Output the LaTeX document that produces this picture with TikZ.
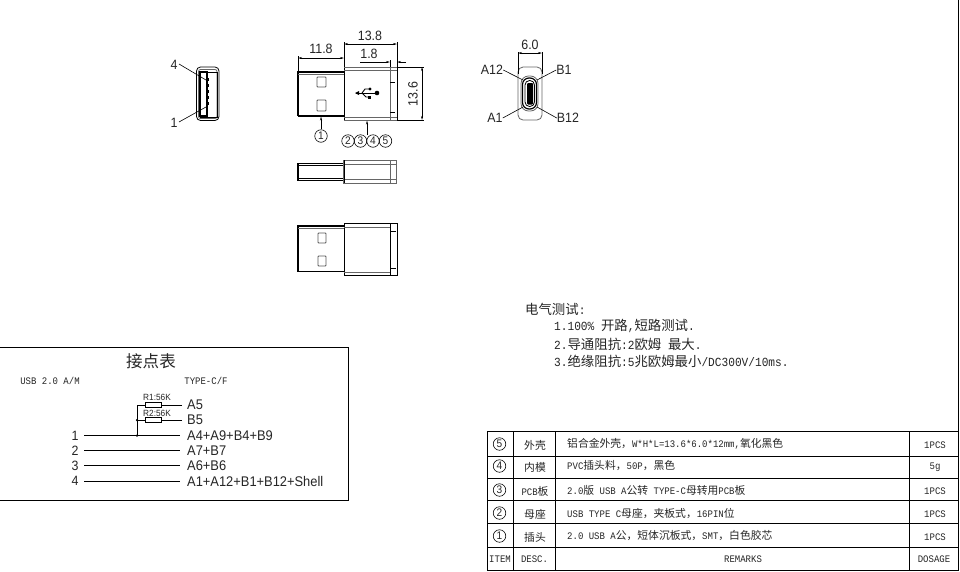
\documentclass[tikz,border=0pt]{standalone}
\usepackage{fontspec}
\setmainfont[FakeStretch=0.9]{Liberation Mono}
\setsansfont[FakeStretch=0.92]{Liberation Sans}
\newfontfamily\cjkf[Scale=1.08]{Noto Sans CJK SC}
\usetikzlibrary{arrows.meta}
\newcommand{\CJ}[1]{{\cjkf #1}}
\tikzset{
 ln/.style={line width=0.8pt,black},
 gln/.style={line width=0.8pt,black!60},
 hln/.style={line width=1.2pt,black},
 thn/.style={line width=0.6pt,black},
 dima/.style={line width=0.5pt,black,{Stealth[length=4pt,width=2pt]}-{Stealth[length=4pt,width=2pt]}},
 ldr/.style={line width=0.5pt,black,-{Stealth[length=4pt,width=2pt]}},
 lab/.style={font=\sffamily\fontsize{13.5}{13.5}\selectfont,inner sep=0pt,text=black!85},
 pin/.style={font=\sffamily\fontsize{14}{14}\selectfont,inner sep=0pt,anchor=west,text=black!85},
 rlab/.style={font=\sffamily\fontsize{9}{9}\selectfont,inner sep=0pt,text=black!85},
 txt/.style={font=\fontsize{10}{10}\selectfont,inner sep=0pt,text=black!85},
 note/.style={font=\fontsize{12.4}{12.4}\selectfont,inner sep=0pt,anchor=west,text=black!85},
 circ/.style={circle,draw,line width=0.6pt,minimum size=12.5pt,inner sep=0pt,font=\sffamily\fontsize{11}{11}\selectfont,text=black!85},
 resb/.style={draw,line width=0.7pt,minimum width=16pt,minimum height=5pt,inner sep=0pt},
 dotn/.style={circle,fill=black,minimum size=2.5pt,inner sep=0pt}
}
\begin{document}
\begin{tikzpicture}[x=1pt,y=-1pt]
\useasboundingbox (0,0) rectangle (960,571);
\fill[white] (0,0) rectangle (960,571);
% page border
\draw[ln] (958,0) -- (958,431);

% USB A face
\draw[ln,rounded corners=4pt] (196.5,67) rectangle (219,120.5);
\draw[gln,rounded corners=2pt] (198.5,69.5) rectangle (217,118.5);
\draw[ln] (200,72) rectangle (217,117);
\draw[hln] (200,72) rectangle (207,116);
\draw[hln,dash pattern=on 3pt off 3pt] (208,78) -- (208,108);
\node[lab] (f4) at (174,65) {4};
\node[lab] (f1) at (174,123) {1};
\coordinate (f4e) at (206,80);
\coordinate (f1e) at (206,107);
\draw[thn] (f4) ++(5,-1) -- (f4e);
\draw[thn] (f1) ++(5,-1) -- (f1e);

% top view
\draw[hln] (344,72) -- (298,72) -- (298,116);
\draw[gln] (298,74) -- (344,74);
\draw[line width=1.6pt] (298,116) -- (344,116);
\draw[ln] (344,67) rectangle (390,120);
\draw[gln] (344,70) -- (397,70);
\draw[gln] (344,117) -- (397,117);
\draw[gln] (390,67) rectangle (397,120);
\draw[gln] (344,67) -- (397,67);
\draw[gln] (344,120) -- (397,120);
\draw[ln] (397,67) -- (397,120);
\foreach \y in {82,112} \draw[thn] (390,\y) -- (395,\y);
\draw[ln,black!65,rounded corners=0.8pt] (317,77) rectangle (326,87);
\draw[ln,black!65,rounded corners=0.8pt] (317,100) rectangle (326,111);
% usb symbol
\draw[line width=1pt] (356,93) -- (377,93);
\fill (355,93) -- (359,91) -- (359,95) -- cycle;
\fill (377,93) circle (2.3pt);
\draw[line width=0.9pt] (362,93) -- (365,89) -- (370,89);
\draw[line width=0.9pt] (362,93) -- (366,97) -- (370,97);
\fill (370,89) circle (1.6pt);
\fill (367.5,95.5) rectangle (371,99);

% dimensions of top view
\coordinate (d1a) at (298,58); \coordinate (d1b) at (344,58);
\draw[dima] (d1a) -- (d1b);
\draw[thn] (298,56) -- (298,72); \draw[thn] (344,42) -- (344,67);
\node[lab] (t118) at (321,49) {11.8};
\coordinate (d2a) at (344,44); \coordinate (d2b) at (397,44);
\draw[dima] (d2a) -- (d2b);
\draw[thn] (397,42) -- (397,67);
\node[lab] (t138) at (370,36) {13.8};
\coordinate (d3a) at (360,62); \coordinate (d3b) at (390,62);
\coordinate (d3c) at (406,62); \coordinate (d3d) at (397,62);
\draw[ldr] (d3a) -- (d3b);
\draw[ldr] (d3c) -- (d3d);
\draw[thn] (390,60) -- (390,67);
\node[lab] (t18) at (369,54) {1.8};
\coordinate (d4a) at (422,67); \coordinate (d4b) at (422,120);
\draw[dima] (d4a) -- (d4b);
\draw[thn] (397,67) -- (424,67); \draw[thn] (397,120) -- (424,120);
\node[lab,rotate=90] (t136) at (413,94) {13.6};
\node[circ] (c1) at (321,136) {1};
\coordinate (c1e) at (321,116.5);
\draw[ldr] (c1) -- (c1e);
\node[circ] (c2) at (348,141) {2};
\node[circ] (c3) at (360.5,141) {3};
\node[circ] (c4) at (373,141) {4};
\node[circ] (c5) at (385.5,141) {5};
\coordinate (cs) at (367,134.5); \coordinate (cse) at (367,120.5);
\draw[ldr] (cs) -- (cse);

% side view
\draw[hln] (344,163.5) -- (298,163.5) -- (298,180.5) -- (344,180.5);
\draw[ln] (298,165.5) -- (344,165.5); \draw[ln] (298,178.5) -- (344,178.5);
\draw[gln] (343.5,160) rectangle (396.5,183);
\draw[gln] (344,164) -- (397,164); \draw[gln] (344,179) -- (397,179);
\draw[gln] (390,160) -- (390,183);
\draw[ln] (344,160) -- (344,183);

% bottom view
\draw[hln] (344,226) -- (298,226) -- (298,271.5) -- (344,271.5);
\draw[gln] (298,228) -- (344,228);
\draw[ln] (344,223) rectangle (390,275);
\draw[ln] (390,223) rectangle (397,275);
\draw[gln] (344,227.5) -- (390,227.5);
\draw[gln] (344,272) -- (390,272);
\foreach \y in {231,268} \draw[thn] (390,\y) -- (396,\y);
\draw[ln,black!65,rounded corners=0.8pt] (318,233) rectangle (326,243);
\draw[ln,black!65,rounded corners=0.8pt] (318,256) rectangle (326,266);

% USB C face
\draw[gln,rounded corners=5pt] (518,67) rectangle (542,120);
\draw[thn] (518,52) -- (518,74); \draw[thn] (542,52) -- (542,74);
\coordinate (d5a) at (518,53); \coordinate (d5b) at (542,53);
\draw[dima] (d5a) -- (d5b);
\node[lab] (t60) at (530,45) {6.0};
\draw[gln,rounded corners=7.5pt] (521,76) rectangle (538,111);
\draw[hln,rounded corners=6.5pt] (522.5,78) rectangle (536.5,109);
\draw[ln,rounded corners=4.5pt] (525,80.5) rectangle (534.5,106.5);
\fill[rounded corners=1pt] (527,83) rectangle (533,104.5);
\node[lab] (a12) at (492,70) {A12};
\node[lab] (b1) at (564,70) {B1};
\node[lab] (a1) at (495,118) {A1};
\node[lab] (b12) at (568,118) {B12};
\coordinate (a12e) at (523,80); \coordinate (b1e) at (537,80);
\coordinate (a1e) at (523,107); \coordinate (b12e) at (537,107);
\draw[thn] (a12.east) -- (a12e);
\draw[thn] (b1.west) -- (b1e);
\draw[thn] (a1.east) -- (a1e);
\draw[thn] (b12.west) -- (b12e);

% notes
\node[note] (n0) at (525,309) {\CJ{电气测试}:};
\node[note] (n1) at (554,326) {1.100\% \CJ{开路},\CJ{短路测试}.};
\node[note] (n2) at (554,344) {2.\CJ{导通阻抗}:2\CJ{欧姆} \CJ{最大}.};
\node[note] (n3) at (554,361) {3.\CJ{绝缘阻抗}:5\CJ{兆欧姆最小}/DC300V/10ms.};

% contact table
\draw[ln] (0,347.5) -- (348,347.5) -- (348,500) -- (0,500);
\node[inner sep=0pt,font=\cjkf\fontsize{15.3}{15.3}\selectfont,text=black!85] (ttl) at (151,361) {接点表};
\node[txt] (hl) at (50,381) {USB 2.0 A/M};
\node[txt] (hr) at (206,381) {TYPE-C/F};
\node[pin] (a5) at (187,405) {A5};
\node[pin] (b5) at (187,420) {B5};
\node[pin] (r3) at (187,435.5) {A4+A9+B4+B9};
\node[pin] (r4) at (187,450.5) {A7+B7};
\node[pin] (r5) at (187,465.5) {A6+B6};
\node[pin] (r6) at (187,481) {A1+A12+B1+B12+Shell};
\node[lab] (p1) at (75,435.5) {1};
\node[lab] (p2) at (75,450.5) {2};
\node[lab] (p3) at (75,465.5) {3};
\node[lab] (p4) at (75,481) {4};
\foreach \p/\q in {p1/r3,p2/r4,p3/r5,p4/r6} \draw[ln,shorten <=5pt,shorten >=7pt] (\p) ++(4,0) coordinate (s) -- (\q.west);
\node[resb] (r1) at (153,405) {};
\node[resb] (r2) at (153,420) {};
\node[rlab] (r1t) at (157,397.5) {R1:56K};
\node[rlab] (r2t) at (157,413) {R2:56K};
\coordinate (j0) at (137,405);
\node[dotn] (j1) at (137,420) {};
\node[dotn] (j2) at (137,435.5) {};
\draw[ln] (a5.west) ++(-5,0) -- (r1.east);
\draw[ln] (b5.west) ++(-5,0) -- (r2.east);
\draw[ln] (r1.west) -- (j0) -- (j2.center);
\draw[ln] (r2.west) -- (j1.center);

% BOM table
\draw[ln] (487,431) rectangle (958,570);
\foreach \y in {456.5,478,500,523,547} \draw[ln] (487,\y) -- (958,\y);
\foreach \x in {513,555,909} \draw[ln] (\x,431) -- (\x,570);
\foreach \n/\y/\d/\r/\q in {
 5/444/{\CJ{外壳}}/{\CJ{铝合金外壳，}W*H*L=13.6*6.0*12mm,\CJ{氧化黑色}}/1PCS,
 4/466/{\CJ{内模}}/{PVC\CJ{插头料，}50P\CJ{，黑色}}/5g,
 3/490/{PCB\CJ{板}}/{2.0\CJ{版} USB A\CJ{公转} TYPE-C\CJ{母转用}PCB\CJ{板}}/1PCS,
 2/513/{\CJ{母座}}/{USB TYPE C\CJ{母座，夹板式，}16PIN\CJ{位}}/1PCS,
 1/536/{\CJ{插头}}/{2.0 USB A\CJ{公，短体沉板式，}SMT\CJ{，白色胶芯}}/1PCS}
 {
  \node[circ] (it\n) at (499.5,\y) {\n};
  \node[txt] (de\n) at (535,\y+1) {\d};
  \node[txt,anchor=west] (re\n) at (567,\y) {\r};
  \node[txt] (qt\n) at (935,\y+1) {\q};
 }
\node[txt] (hi) at (500,559.5) {ITEM};
\node[txt] (hd) at (534.5,559.5) {DESC.};
\node[txt] (hrm) at (743,559.5) {REMARKS};
\node[txt] (hq) at (934,559.5) {DOSAGE};
\end{tikzpicture}
\end{document}
